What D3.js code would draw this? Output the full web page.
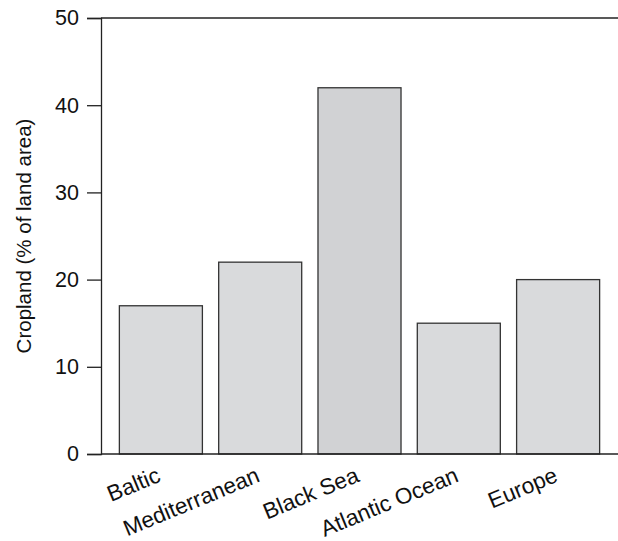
<!DOCTYPE html>
<html><head><meta charset="utf-8">
<script src="https://cdn.jsdelivr.net/npm/d3@7"></script>
<style>body{margin:0;background:#fff}svg{display:block}text{font-family:"Liberation Sans",Arial,sans-serif}</style>
</head><body><svg id="c" width="618" height="541"></svg>
<script>
const categories = ["Baltic","Mediterranean","Black Sea","Atlantic Ocean","Europe"];
const values = [17, 22, 42, 15, 20];
const fills = ["#d9dadc","#d9dadc","#d1d2d4","#d9dadc","#d9dadc"];
const yTicks = [0,10,20,30,40,50];
const yLabel = "Cropland (% of land area)";

const svg = d3.select("#c");
const x = d3.scaleBand().domain(categories).range([101, 618]).paddingInner(0.164).paddingOuter(0.185);
const y = d3.scaleLinear().domain([0, 50]).range([454, 18]);

svg.selectAll("rect.bar").data(values).enter().append("rect")
  .attr("class","bar")
  .attr("x",(d,i)=>x(categories[i]))
  .attr("y",d=>y(d))
  .attr("width",x.bandwidth())
  .attr("height",d=>y(0)-y(d))
  .attr("fill",(d,i)=>fills[i])
  .attr("stroke","#333").attr("stroke-width",1.3);

// y axis
const ya = svg.append("g").attr("transform","translate(101,0)")
  .call(d3.axisLeft(y).tickValues(yTicks).tickSize(14).tickPadding(8));
ya.select(".domain").attr("stroke","#222").attr("stroke-width",1.3);
ya.selectAll(".tick line").attr("stroke","#222").attr("stroke-width",1.3);
ya.selectAll(".tick text").attr("font-size",21.5).attr("fill","#111").attr("font-family","Liberation Sans, Arial, sans-serif");

// top and bottom frame lines
svg.append("line").attr("x1",101).attr("x2",618).attr("y1",y(50)).attr("y2",y(50)).attr("stroke","#222").attr("stroke-width",1.3);
svg.append("line").attr("x1",101).attr("x2",618).attr("y1",y(0)).attr("y2",y(0)).attr("stroke","#222").attr("stroke-width",1.3);

// x labels
svg.selectAll("text.xl").data(categories).enter().append("text")
  .attr("class","xl")
  .attr("transform",d=>`translate(${x(d)+x.bandwidth()/2+1},481) rotate(-22.5)`)
  .attr("text-anchor","end")
  .attr("font-size",22.5).attr("fill","#111")
  .text(d=>d);

svg.append("text")
  .attr("transform",`translate(31,236) rotate(-90)`)
  .attr("text-anchor","middle")
  .attr("font-size",20.5).attr("fill","#111")
  .text(yLabel);
</script></body></html>
